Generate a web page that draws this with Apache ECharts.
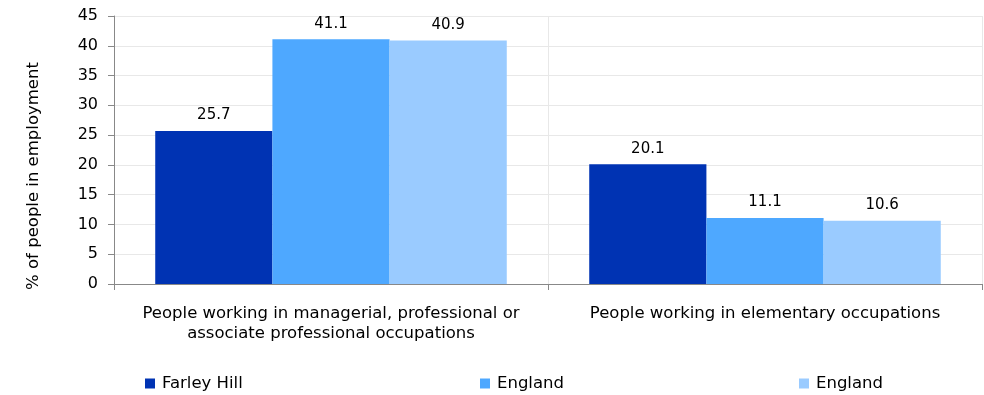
<!DOCTYPE html>
<html><head><meta charset="utf-8">
<script src="https://cdn.jsdelivr.net/npm/echarts@6/dist/echarts.min.js"></script>
<style>html,body{margin:0;padding:0;background:#fff}#c{width:984px;height:395px}</style>
</head><body><div id="c"></div>
<script>
var categories = ["People working in managerial, professional or\nassociate professional occupations", "People working in elementary occupations"];
var seriesNames = ["Farley Hill", "England", "England "];
var farleyHill = [25.7, 20.1];
var england1 = [41.1, 11.1];
var england2 = [40.9, 10.6];
var yTicks = [0, 5, 10, 15, 20, 25, 30, 35, 40, 45];
var colors = ["#0033b3", "#4ea8ff", "#9acbff"];
var font = "DejaVu Sans, sans-serif";

var chart = echarts.init(document.getElementById('c'), null, {renderer: 'canvas'});
function mkSeries(name, data, color) {
  return {
    name: name, type: 'bar', data: data, barGap: 0, barCategoryGap: '19%',
    itemStyle: {color: color},
    label: {show: true, position: 'top', distance: 8, color: '#000', fontSize: 15, fontFamily: font,
      formatter: function(p){ return p.value.toFixed(1); }},
    animation: false
  };
}
function mkLegend(name, left) {
  return {
    data: [name], left: left, top: 370, itemWidth: 10, itemHeight: 10, icon: 'rect', itemGap: 0,
    textStyle: {fontSize: 16.5, fontFamily: font, color: '#000', padding: [0,0,0,2]},
    formatter: function(n){ return n.trim(); }
  };
}
chart.setOption({
  animation: false,
  color: colors,
  grid: {left: 114, right: 2, top: 16, bottom: 111, containLabel: false},
  legend: [mkLegend(seriesNames[0], 140), mkLegend(seriesNames[1], 475), mkLegend(seriesNames[2], 794)],
  xAxis: {
    type: 'category', data: categories,
    axisLine: {show: true, lineStyle: {color: '#888', width: 1}},
    axisTick: {show: true, length: 6, lineStyle: {color: '#888'}},
    axisLabel: {fontSize: 16.5, fontFamily: font, color: '#000', margin: 20, lineHeight: 20, interval: 0},
    splitLine: {show: true, lineStyle: {color: '#e8e8e8', width: 1}}
  },
  yAxis: {
    type: 'value', min: yTicks[0], max: yTicks[yTicks.length-1], interval: 5,
    name: '% of people in employment', nameLocation: 'middle', nameGap: 72, nameRotate: 90,
    nameTextStyle: {fontSize: 16.5, fontFamily: font, color: '#000', padding: [0, 52, 0, 0]},
    axisLine: {show: true, lineStyle: {color: '#888', width: 1}},
    axisTick: {show: true, length: 6, lineStyle: {color: '#888'}},
    axisLabel: {fontSize: 16, fontFamily: font, color: '#000', margin: 16},
    splitLine: {show: true, lineStyle: {color: '#e8e8e8', width: 1}}
  },
  series: [mkSeries(seriesNames[0], farleyHill, colors[0]), mkSeries(seriesNames[1], england1, colors[1]), mkSeries(seriesNames[2], england2, colors[2])]
});
</script></body></html>
